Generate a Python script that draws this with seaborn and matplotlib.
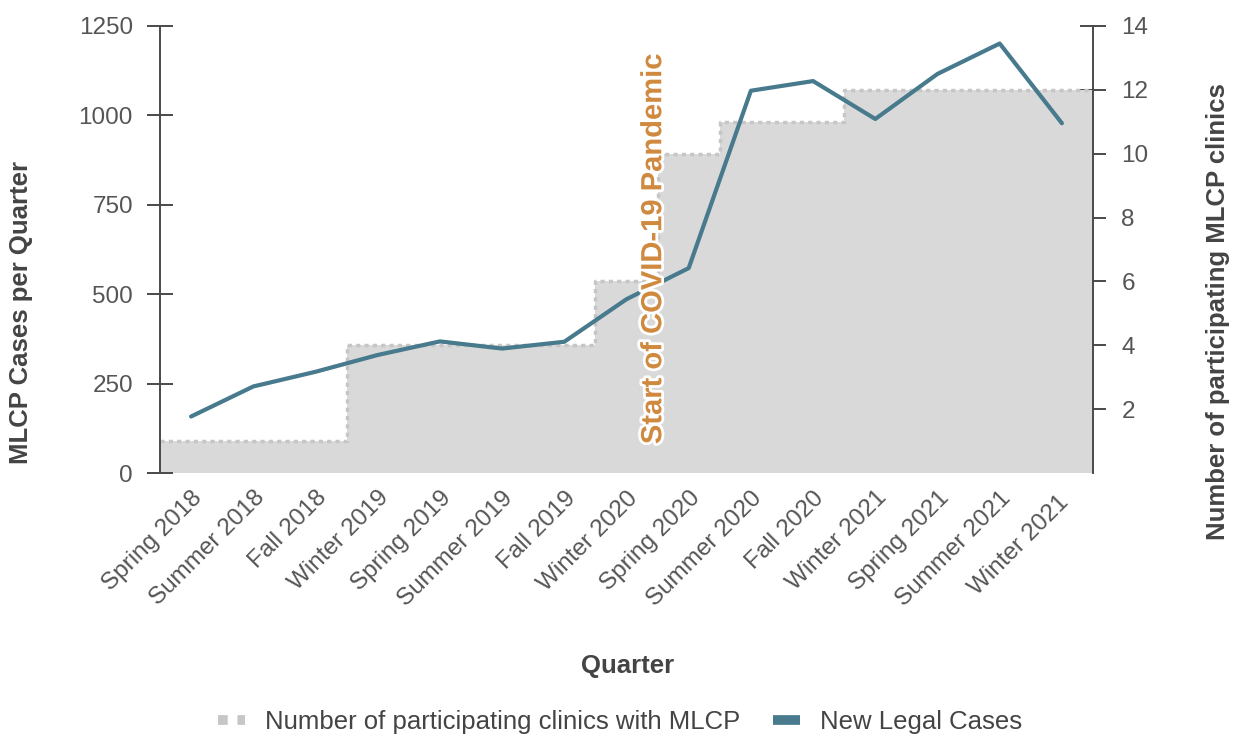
import numpy as np
import pandas as pd
import matplotlib
matplotlib.use("Agg")
import matplotlib.pyplot as plt
import matplotlib.patheffects as pe
from matplotlib.lines import Line2D
import seaborn as sns

quarters = ["Spring 2018", "Summer 2018", "Fall 2018", "Winter 2019", "Spring 2019",
            "Summer 2019", "Fall 2019", "Winter 2020", "Spring 2020", "Summer 2020",
            "Fall 2020", "Winter 2021", "Spring 2021", "Summer 2021", "Winter 2021 "]
new_cases = [158, 242, 283, 330, 368, 348, 367, 486, 573, 1069, 1096, 990, 1116, 1201, 978]
clinics = [1, 1, 1, 4, 4, 4, 4, 6, 10, 11, 11, 12, 12, 12, 12]
left_ticks = [0, 250, 500, 750, 1000, 1250]
right_ticks = [2, 4, 6, 8, 10, 12, 14]
annotation = "Start of COVID-19 Pandemic"

sns.set_style("white")
plt.rcParams["font.family"] = ["Liberation Sans", "DejaVu Sans"]

TEAL = "#477a8c"
FILL = "#d9d9d9"
EDGE = "#c6c6c6"
TXT = "#444444"
TICK = "#555555"
ORANGE = "#cf8a40"

fig = plt.figure(figsize=(12.36, 7.36), dpi=100)
ax = fig.add_axes([160/1236, 1-473/736, (1093-160)/1236, (473-26)/736])
ax2 = ax.twinx()

df = pd.DataFrame({"pos": np.arange(len(quarters)), "cases": new_cases, "quarter": quarters})

# step area for clinics on the right axis
edges = np.arange(len(clinics) + 1) - 0.5
steps = np.append(clinics, clinics[-1])
ax2.fill_between(edges, steps, step="post", color=FILL, linewidth=0, zorder=1)
ax2.step(edges, steps, where="post", color=EDGE, linestyle=(0, (1.2, 1.2)), linewidth=2.5, zorder=2)

# line for new legal cases on the left axis
sns.lineplot(data=df, x="pos", y="cases", ax=ax, color=TEAL, linewidth=3, zorder=3)

ax.set_zorder(ax2.get_zorder() + 1)
ax.patch.set_visible(False)

ax.set_xlim(-0.5, len(quarters) - 0.5)
ax.set_ylim(0, 1250)
ax2.set_ylim(0, 14)
ax.set_yticks(left_ticks)
ax2.set_yticks(right_ticks)
ax.set_xticks(df["pos"])
ax.set_xticklabels(quarters, rotation=45, ha="right", rotation_mode="anchor",
                   fontsize=17.5, color=TICK)
ax.tick_params(axis="x", length=0, pad=10)
ax.tick_params(axis="y", direction="inout", length=19, width=1.4, color="#4a4a4a",
               labelsize=17.5, labelcolor=TICK, pad=10)
ax2.tick_params(axis="y", direction="inout", length=19, width=1.4, color="#4a4a4a",
                labelsize=17.5, labelcolor=TICK, pad=11)

for a in (ax, ax2):
    for s in ("top", "bottom"):
        a.spines[s].set_visible(False)
ax.spines["right"].set_visible(False)
ax2.spines["left"].set_visible(False)
ax.spines["left"].set_color("#4a4a4a")
ax.spines["left"].set_linewidth(1.4)
ax2.spines["right"].set_color("#4a4a4a")
ax2.spines["right"].set_linewidth(1.4)

ax.set_xlabel("Quarter", fontsize=18.5, fontweight="bold", color=TXT)
ax.set_ylabel("MLCP Cases per Quarter", fontsize=18.5, fontweight="bold", color=TXT)
ax2.set_ylabel("Number of participating MLCP clinics", fontsize=18.5, fontweight="bold",
               color=TXT)
ax.xaxis.set_label_coords((628-160)/933, (473-654)/447)
ax.yaxis.set_label_coords((33-160)/933, (473-312)/447)
ax2.yaxis.set_label_coords((1206-160)/933, (473-312)/447)

ax.text(7.43, 626, annotation, rotation=90, ha="center", va="center", fontsize=21,
        fontweight="bold", color=ORANGE, zorder=5,
        path_effects=[pe.withStroke(linewidth=4, foreground="white")])

handles = [Line2D([0], [0], color=EDGE, linestyle=(0, (1, 1)), linewidth=7),
           Line2D([0], [0], color=TEAL, linewidth=7, solid_capstyle="butt")]
labels = ["Number of participating clinics with MLCP", "New Legal Cases"]
fig.legend(handles, labels, loc="center", bbox_to_anchor=(620/1236, 1-722/736), ncol=2,
           frameon=False, handlelength=1.05, columnspacing=1.3, handletextpad=0.75,
           prop={"size": 18.5}, labelcolor=TXT)

fig.savefig("out.png", dpi=100)
